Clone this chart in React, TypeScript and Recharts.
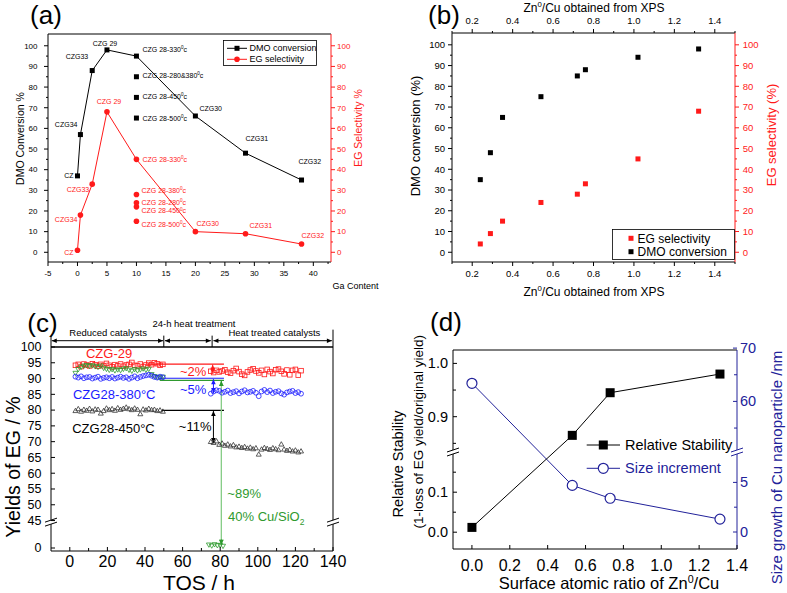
import React from "react";
import {
  ScatterChart,
  Scatter,
  XAxis,
  YAxis,
  ReferenceLine,
  ReferenceDot,
  Legend,
} from "recharts";

const FONT = "'Liberation Sans', Arial, Helvetica, sans-serif";
const RED = "#ff1a1a";
const BLUE = "#1a1aff";
const NAVY = "#22229a";
const GREEN = "#2f9a2f";
const LIGHTGREEN = "#86cc86";

// ---------- (a) conversion / selectivity vs Ga content
const gaContent = [0, 0.5, 2.5, 5, 10, 20, 28.5, 38];
const sampleNames = ["CZ", "CZG34", "CZG33", "CZG 29", "CZG 28-330⁰c", "CZG30", "CZG31", "CZG32"];
const dmoConversion = [37, 57, 88, 98, 95, 66, 48, 35];
const egSelectivity = [1, 18, 33, 68, 45, 10, 9, 4];
const czg28Ga = 10;
const czg28DmoNames = ["CZG 28-280&380⁰c", "CZG 28-450⁰c", "CZG 28-500⁰c"];
const czg28Dmo = [85, 75, 65];
const czg28EgNames = ["CZG 28-380⁰c", "CZG 28-280⁰c", "CZG 28-450⁰c", "CZG 28-500⁰c"];
const czg28Eg = [28, 24, 22, 15];
const gaTicks = [-5, -2.5, 0, 2.5, 5, 7.5, 10, 12.5, 15, 17.5, 20, 22.5, 25, 27.5, 30, 32.5, 35, 37.5, 40, 42.5];
const pctTicks = [0, 5, 10, 15, 20, 25, 30, 35, 40, 45, 50, 55, 60, 65, 70, 75, 80, 85, 90, 95, 100];

// ---------- (b) vs Zn0/Cu
const znCu = [0.24, 0.29, 0.35, 0.54, 0.72, 0.76, 1.02, 1.32];
const dmoVsZn = [35, 48, 65, 75, 85, 88, 94, 98];
const egVsZn = [4, 9, 15, 24, 28, 33, 45, 68];
const znTicks = [0.1, 0.2, 0.3, 0.4, 0.5, 0.6, 0.7, 0.8, 0.9, 1.0, 1.1, 1.2, 1.3, 1.4, 1.5];

// ---------- (c) yields vs TOS
const tosReduced = [3, 4.5, 6, 7.5, 9, 10.5, 12, 13.5, 15, 16.5, 18, 19.5, 21, 22.5, 24, 25.5, 27, 28.5, 30, 31.5, 33, 34.5, 36, 37.5, 39, 40.5, 42, 43.5, 45, 46.5, 48, 49.5];
const tosTreated = [75, 76.5, 78, 79.5, 81, 82.5, 84, 85.5, 87, 88.5, 90, 91.5, 93, 94.5, 96, 97.5, 99, 100.5, 102, 103.5, 105, 106.5, 108, 109.5, 111, 112.5, 114, 115.5, 117, 118.5, 120, 121.5, 123];
const tosCuSiO2Treated = [74, 75.5, 77, 78.5, 80, 81.5];
const czg29Reduced = [94.2, 94.5, 93.8, 94.6, 94.3, 94.0, 94.7, 94.4, 93.9, 94.5, 94.1, 94.8, 94.2, 93.7, 94.4, 94.0, 94.6, 93.9, 94.3, 94.5, 95.1, 94.2, 94.0, 94.6, 93.8, 94.3, 94.9, 94.4, 95.0, 94.7, 94.2, 94.5];
const czg29Treated = [92.3, 91.9, 92.6, 92.1, 92.4, 92.8, 92.0, 91.7, 92.5, 93.2, 92.2, 91.4, 91.0, 92.1, 92.7, 93.1, 92.4, 91.8, 92.6, 91.3, 92.9, 92.2, 91.6, 92.8, 93.0, 92.3, 91.5, 92.7, 91.2, 92.6, 92.9, 91.1, 92.5];
const czg380Reduced = [90.6, 90.3, 90.7, 90.1, 90.4, 90.5, 90.0, 90.3, 90.6, 89.9, 90.2, 90.4, 90.1, 90.5, 90.0, 90.3, 90.6, 90.2, 90.4, 89.9, 90.3, 90.7, 90.1, 90.5, 90.8, 91.0, 91.2, 90.9, 90.5, 90.3, 90.6, 90.4];
const czg380Treated = [85.2, 85.9, 86.3, 86.1, 85.5, 85.8, 86.2, 85.4, 85.7, 86.0, 85.3, 85.9, 86.3, 85.6, 85.8, 86.1, 85.5, 84.4, 85.9, 86.4, 85.7, 86.2, 85.4, 85.8, 86.0, 85.3, 84.9, 85.6, 85.9, 86.1, 85.4, 85.7, 85.2];
const czg450Reduced = [79.9, 80.5, 79.7, 80.3, 80.0, 80.6, 79.8, 80.4, 80.3, 79.1, 79.9, 80.7, 80.2, 80.5, 80.0, 80.8, 80.3, 80.6, 81.0, 80.5, 80.2, 80.7, 80.3, 78.9, 80.4, 80.1, 80.6, 80.2, 80.3, 79.9, 80.1, 79.7];
const czg450Treated = [70.1, 69.8, 70.3, 69.2, 69.6, 68.9, 69.3, 68.7, 69.1, 68.4, 68.6, 68.2, 68.5, 68.0, 68.3, 67.8, 68.1, 66.1, 67.7, 68.2, 67.9, 67.6, 68.1, 67.8, 67.5, 69.3, 67.7, 67.3, 67.6, 67.1, 67.4, 66.8, 67.1];
const cuSiO2Reduced = [91.6, 92.8, 93.5, 93.9, 94.1, 93.8, 94.0, 93.7, 93.5, 93.9, 93.2, 92.9, 92.6, 92.8, 92.4, 92.7, 92.5, 92.9, 93.1, 92.6, 92.3, 92.8, 92.4, 92.7, 93.0, 92.6, 92.9, 91.2, 90.6, 90.3, 90.1, 90.4];
const cuSiO2Treated = [0.9, 0.6, 1.0, 0.7, 0.8, 0.5];
const tosTicks = [0, 10, 20, 30, 40, 50, 60, 70, 80, 90, 100, 110, 120, 130, 140];
const yieldTicks = [0, 45, 50, 55, 60, 65, 70, 75, 80, 85, 90, 95, 100];

// ---------- (d) stability / size growth
const surfaceRatio = [0, 0.53, 0.73, 1.31];
const relStability = [0.012, 0.865, 0.945, 0.98];
const sizeIncrement = [63.4, 4.7, 3.4, 1.3];
const ratioTicks = [0, 0.2, 0.4, 0.6, 0.8, 1.0, 1.2, 1.4];
const stabTicks = [0, 0.05, 0.1, 0.15, 0.85, 0.9, 0.95, 1.0];
const sizeTicks = [0, 2.5, 5, 55, 60, 65, 70];

// broken axes
const breakC = 44.5;
const yc = (v: number) => (v >= 44 ? v : 36.3 + v);
const dLeft = (v: number) => (v <= 0.5 ? 16.8 + 400 * v : 132.3 + (v - 0.9) * 533);
const dRight = (v: number) => (v <= 30 ? 17 + 9.92 * v : 147.6 + (v - 60) * 5.33);

function rich(s: string, fs: number) {
  const parts = s.split(/([⁰₂])/).filter((p) => p !== "");
  let shift = 0;
  return parts.map((part, i) => {
    if (part === "⁰" || part === "₂") {
      const d = part === "⁰" ? -0.4 * fs : 0.3 * fs;
      const el = (
        <tspan key={i} dy={d - shift} fontSize={fs * 0.65}>
          {part === "⁰" ? "0" : "2"}
        </tspan>
      );
      shift = d;
      return el;
    }
    const el = (
      <tspan key={i} dy={shift ? -shift : undefined}>
        {part}
      </tspan>
    );
    shift = 0;
    return el;
  });
}

function title(text: string, x: number, y: number, fs: number, color = "#000", vertical = false) {
  return (
    <text
      x={x}
      y={y}
      dy="0.35em"
      textAnchor="middle"
      fontSize={fs}
      fill={color}
      fontFamily={FONT}
      transform={vertical ? `rotate(-90 ${x} ${y})` : undefined}
    >
      {rich(text, fs)}
    </text>
  );
}

type Side = "left" | "right" | "top" | "bottom";
function axisTick(o: {
  side: Side;
  inward?: boolean;
  len?: number;
  minorLen?: number;
  gap: number;
  fontSize: number;
  color?: string;
  label: (v: number) => string | null;
}) {
  const { side, inward = false, len = 4, minorLen = 2, gap, fontSize, color = "#000", label } = o;
  return (props: any) => {
    const { x, y, payload } = props;
    const txt = label(payload.value);
    const L = txt === null ? minorLen : len;
    const s = inward ? -1 : 1;
    let x2 = x;
    let y2 = y;
    let tx = x;
    let ty = y;
    let anchor = "middle";
    if (side === "bottom") {
      y2 = y + s * L;
      ty = y + gap;
    } else if (side === "top") {
      y2 = y - s * L;
      ty = y - gap;
    } else if (side === "left") {
      x2 = x - s * L;
      tx = x - gap;
      anchor = "end";
    } else {
      x2 = x + s * L;
      tx = x + gap;
      anchor = "start";
    }
    return (
      <g>
        <line x1={x} y1={y} x2={x2} y2={y2} stroke={color} strokeWidth={1} />
        {txt !== null && (
          <text x={tx} y={ty} dy="0.35em" textAnchor={anchor} fontSize={fontSize} fontFamily={FONT} fill={color}>
            {txt}
          </text>
        )}
      </g>
    );
  };
}

const square = (size: number, fill: string, stroke = fill, sw = 0) => (p: any) => (
  <rect x={p.cx - size / 2} y={p.cy - size / 2} width={size} height={size} fill={fill} stroke={stroke} strokeWidth={sw} />
);
const circle = (r: number, fill: string, stroke = fill, sw = 0) => (p: any) => (
  <circle cx={p.cx} cy={p.cy} r={r} fill={fill} stroke={stroke} strokeWidth={sw} />
);
const triangle = (s: number, color: string, down = false) => (p: any) => {
  const h = s * 0.87;
  const pts = down
    ? `${p.cx - s / 2},${p.cy - h / 2} ${p.cx + s / 2},${p.cy - h / 2} ${p.cx},${p.cy + h / 2}`
    : `${p.cx - s / 2},${p.cy + h / 2} ${p.cx + s / 2},${p.cy + h / 2} ${p.cx},${p.cy - h / 2}`;
  return <polygon points={pts} fill="none" stroke={color} strokeWidth={0.8} />;
};

type Place = [number, number, string];
const placeDmo: Record<string, Place> = {
  CZ: [-4, 0, "end"],
  CZG34: [-3, -10, "end"],
  CZG33: [-4, -14, "end"],
  "CZG 29": [-2, -6, "middle"],
  "CZG 28-330⁰c": [6, -7, "start"],
  "CZG 28-280&380⁰c": [6, -1, "start"],
  "CZG 28-450⁰c": [6, -1, "start"],
  "CZG 28-500⁰c": [6, 0, "start"],
  CZG30: [4, -7, "start"],
  CZG31: [0, -15, "start"],
  CZG32: [-3, -18, "start"],
};
const placeEg: Record<string, Place> = {
  CZ: [-4, 2, "end"],
  CZG34: [-3, 4, "end"],
  CZG33: [-3, 5, "end"],
  "CZG 29": [2, -10, "middle"],
  "CZG 28-330⁰c": [6, 0, "start"],
  "CZG 28-380⁰c": [5, -4, "start"],
  "CZG 28-280⁰c": [5, 0, "start"],
  "CZG 28-450⁰c": [5, 4, "start"],
  "CZG 28-500⁰c": [5, 3, "start"],
  CZG30: [1, -8, "start"],
  CZG31: [4, -8, "start"],
  CZG32: [0, -8, "start"],
};

const labelled = (base: (p: any) => React.ReactElement, place: Record<string, Place>, color: string) => (p: any) => {
  const name = p.payload?.name ?? "";
  const pl = place[name] ?? [6, 0, "start"];
  return (
    <g>
      {base(p)}
      <text x={p.cx + pl[0]} y={p.cy + pl[1]} dy="0.35em" textAnchor={pl[2]} fontSize={7} fill={color} fontFamily={FONT}>
        {rich(name, 7)}
      </text>
    </g>
  );
};

function arrowShape(p: any, color: string, heads: [boolean, boolean], w: number) {
  const { x1, y1, x2, y2 } = p;
  const a = Math.atan2(y2 - y1, x2 - x1);
  const head = (x: number, y: number, ang: number) => {
    const L = 5;
    const H = 2.3;
    const bx = x - L * Math.cos(ang);
    const by = y - L * Math.sin(ang);
    return (
      <polygon
        points={`${x},${y} ${bx - H * Math.sin(ang)},${by + H * Math.cos(ang)} ${bx + H * Math.sin(ang)},${by - H * Math.cos(ang)}`}
        fill={color}
      />
    );
  };
  return (
    <g>
      <line x1={x1} y1={y1} x2={x2} y2={y2} stroke={color} strokeWidth={w} />
      {heads[0] && head(x1, y1, a + Math.PI)}
      {heads[1] && head(x2, y2, a)}
    </g>
  );
}

const arrow = (x1: number, y1: number, x2: number, y2: number, color: string, heads: [boolean, boolean], w = 1, visible = false) => (
  <ReferenceLine
    segment={[{ x: x1, y: y1 }, { x: x2, y: y2 }]}
    ifOverflow={visible ? "visible" : "discard"}
    stroke={color}
    shape={(p: any) => arrowShape(p, color, heads, w)}
  />
);

const seg = (x1: number, y1: number, x2: number, y2: number, color: string, w = 1, visible = false) => (
  <ReferenceLine segment={[{ x: x1, y: y1 }, { x: x2, y: y2 }]} ifOverflow={visible ? "visible" : "discard"} stroke={color} strokeWidth={w} />
);

const note = (x: number, y: number, text: string, color: string, fs: number, anchor = "start", visible = false) => (
  <ReferenceDot
    x={x}
    y={y}
    r={0}
    ifOverflow={visible ? "visible" : "discard"}
    shape={(p: any) => (
      <text x={p.cx} y={p.cy} dy="0.35em" textAnchor={anchor} fontSize={fs} fill={color} fontFamily={FONT}>
        {rich(text, fs)}
      </text>
    )}
  />
);

const breakMark = (x: number, y: number, color: string, yAxisId: any = 0) => (
  <ReferenceDot
    x={x}
    y={y}
    r={0}
    yAxisId={yAxisId}
    ifOverflow="visible"
    shape={(p: any) => (
      <g>
        <polygon points={`${p.cx - 6},${p.cy} ${p.cx + 6},${p.cy - 4} ${p.cx + 6},${p.cy} ${p.cx - 6},${p.cy + 4}`} fill="#fff" />
        <line x1={p.cx - 6} y1={p.cy} x2={p.cx + 6} y2={p.cy - 4} stroke={color} strokeWidth={1} />
        <line x1={p.cx - 6} y1={p.cy + 4} x2={p.cx + 6} y2={p.cy} stroke={color} strokeWidth={1} />
      </g>
    )}
  />
);

type LegendRow = { name: string; color: string; sym: "square" | "circle" | "openCircle"; size: number };
function legendBox(rows: LegendRow[], o: { w: number; h: number; border: boolean; fs: number; rowY: number[]; symX: number; textX: number; line?: [number, number] }) {
  return () => (
    <svg width={o.w} height={o.h} style={{ display: "block" }}>
      {o.border && <rect x={0.5} y={0.5} width={o.w - 1} height={o.h - 1} fill="#fff" stroke="#000" strokeWidth={0.8} />}
      {rows.map((r, i) => {
        const y = o.rowY[i];
        return (
          <g key={r.name}>
            {o.line && <line x1={o.line[0]} y1={y} x2={o.line[1]} y2={y} stroke={r.color} strokeWidth={1} />}
            {r.sym === "square" && <rect x={o.symX - r.size / 2} y={y - r.size / 2} width={r.size} height={r.size} fill={r.color} />}
            {r.sym === "circle" && <circle cx={o.symX} cy={y} r={r.size / 2} fill={r.color} />}
            {r.sym === "openCircle" && <circle cx={o.symX} cy={y} r={r.size / 2} fill="#fff" stroke={r.color} strokeWidth={1.2} />}
            <text x={o.textX} y={y} dy="0.35em" fontSize={o.fs} fontFamily={FONT} fill={o.line && r.sym === "openCircle" ? r.color : "#000"}>
              {r.name}
            </text>
          </g>
        );
      })}
    </svg>
  );
}

const pctLabel = (v: number) => (v % 10 === 0 ? String(v) : null);

function PanelA() {
  const dmo = gaContent.map((x, i) => ({ x, y: dmoConversion[i], name: sampleNames[i] }));
  const eg = gaContent.map((x, i) => ({ x, y: egSelectivity[i], name: sampleNames[i] }));
  const dmo28 = czg28Dmo.map((y, i) => ({ x: czg28Ga, y, name: czg28DmoNames[i] }));
  const eg28 = czg28Eg.map((y, i) => ({ x: czg28Ga, y, name: czg28EgNames[i] }));
  const sq = square(5, "#000");
  const dot = circle(2.8, RED);
  return (
    <div style={{ position: "absolute", left: 0, top: 0 }}>
      <ScatterChart width={395} height={296} margin={{ top: 33, right: 0, bottom: 0, left: 0 }}>
        <XAxis
          type="number"
          dataKey="x"
          domain={[-5, 43]}
          allowDataOverflow
          ticks={gaTicks}
          interval={0}
          height={34}
          tickSize={0}
          tickMargin={0}
          tickLine={false}
          axisLine={{ stroke: "#000" }}
          tick={axisTick({ side: "bottom", gap: 11, fontSize: 8, label: (v) => (v % 5 === 0 ? String(v) : null) })}
          label={() => title("Ga Content", 355.5, 285.7, 9)}
        />
        <XAxis
          xAxisId="top"
          orientation="top"
          type="number"
          domain={[-5, 43]}
          allowDataOverflow
          height={1}
          tick={false}
          tickLine={false}
          axisLine={{ stroke: "#000" }}
          label={() => title("(a)", 46, 15, 26)}
        />
        <YAxis
          type="number"
          dataKey="y"
          domain={[-4.7, 105.7]}
          allowDataOverflow
          ticks={pctTicks}
          interval={0}
          width={48}
          tickSize={0}
          tickMargin={0}
          tickLine={false}
          axisLine={{ stroke: "#000" }}
          tick={axisTick({ side: "left", gap: 10.5, fontSize: 8, label: pctLabel })}
          label={() => title("DMO Conversion %", 20, 138.5, 10.5, "#000", true)}
        />
        <YAxis
          yAxisId="r"
          orientation="right"
          type="number"
          dataKey="y"
          domain={[-4.7, 105.7]}
          allowDataOverflow
          ticks={pctTicks}
          interval={0}
          width={64}
          tickSize={0}
          tickMargin={0}
          tickLine={false}
          axisLine={{ stroke: RED }}
          tick={axisTick({ side: "right", gap: 6, fontSize: 8, color: RED, label: pctLabel })}
          label={() => title("EG Selectivity %", 358, 128, 10.5, RED, true)}
        />
        <Legend
          layout="horizontal"
          verticalAlign="middle"
          align="center"
          wrapperStyle={{ left: 222.7, top: 40, width: 94, height: 26, margin: 0, padding: 0 }}
          content={legendBox(
            [
              { name: "DMO conversion", color: "#000", sym: "square", size: 5 },
              { name: "EG selectivity", color: RED, sym: "circle", size: 5.6 },
            ],
            { w: 94, h: 26, border: true, fs: 9, rowY: [8.3, 19.3], symX: 14, textX: 26.6, line: [4, 24] }
          )}
        />
        <Scatter name="DMO conversion" data={dmo} fill="#000" line={{ stroke: "#000", strokeWidth: 1 }} lineType="joint" shape={labelled(sq, placeDmo, "#000")} isAnimationActive={false} />
        <Scatter name="EG selectivity" yAxisId="r" data={eg} fill={RED} line={{ stroke: RED, strokeWidth: 1 }} lineType="joint" shape={labelled(dot, placeEg, RED)} isAnimationActive={false} />
        <Scatter name="CZG 28 DMO" data={dmo28} fill="#000" legendType="none" shape={labelled(sq, placeDmo, "#000")} isAnimationActive={false} />
        <Scatter name="CZG 28 EG" yAxisId="r" data={eg28} fill={RED} legendType="none" shape={labelled(dot, placeEg, RED)} isAnimationActive={false} />
      </ScatterChart>
    </div>
  );
}

const znLabel = (v: number) => (Math.round(v * 10) % 2 === 0 ? v.toFixed(1) : null);

function PanelB() {
  const dmo = znCu.map((x, i) => ({ x, y: dmoVsZn[i] }));
  const eg = znCu.map((x, i) => ({ x, y: egVsZn[i] }));
  return (
    <div style={{ position: "absolute", left: 395, top: 0 }}>
      <ScatterChart width={392} height={300} margin={{ top: 0, right: 0, bottom: 0, left: 0 }}>
        <XAxis
          type="number"
          dataKey="x"
          domain={[0.1, 1.5]}
          allowDataOverflow
          ticks={znTicks}
          interval={0}
          height={38}
          tickSize={0}
          tickMargin={0}
          tickLine={false}
          axisLine={{ stroke: "#000" }}
          tick={axisTick({ side: "bottom", gap: 11.5, fontSize: 9.5, label: znLabel })}
          label={() => title("Zn⁰/Cu obtained from XPS", 199, 292, 12)}
        />
        <XAxis
          xAxisId="top"
          orientation="top"
          type="number"
          dataKey="x"
          domain={[0.1, 1.5]}
          allowDataOverflow
          ticks={znTicks}
          interval={0}
          height={33}
          tickSize={0}
          tickMargin={0}
          tickLine={false}
          axisLine={{ stroke: "#000" }}
          tick={axisTick({ side: "top", gap: 12, fontSize: 9.5, label: znLabel })}
          label={() => (
            <g>
              {title("(b)", 49, 15, 26)}
              {title("Zn⁰/Cu obtained from XPS", 199, 8, 12)}
            </g>
          )}
        />
        <YAxis
          type="number"
          dataKey="y"
          domain={[-4.7, 105.7]}
          allowDataOverflow
          ticks={pctTicks}
          interval={0}
          width={57}
          tickSize={0}
          tickMargin={0}
          tickLine={false}
          axisLine={{ stroke: "#000" }}
          tick={axisTick({ side: "left", gap: 7, fontSize: 9.5, label: pctLabel })}
          label={() => title("DMO conversion (%)", 20, 136, 13, "#000", true)}
        />
        <YAxis
          yAxisId="r"
          orientation="right"
          type="number"
          dataKey="y"
          domain={[-4.7, 105.7]}
          allowDataOverflow
          ticks={pctTicks}
          interval={0}
          width={52}
          tickSize={0}
          tickMargin={0}
          tickLine={false}
          axisLine={{ stroke: RED }}
          tick={axisTick({ side: "right", gap: 7.7, fontSize: 9.5, color: RED, label: pctLabel })}
          label={() => title("EG selectivity (%)", 376.7, 135, 13, RED, true)}
        />
        <Legend
          layout="horizontal"
          verticalAlign="middle"
          align="center"
          wrapperStyle={{ left: 216.7, top: 229, width: 123, height: 31, margin: 0, padding: 0 }}
          content={legendBox(
            [
              { name: "EG selectivity", color: RED, sym: "square", size: 5 },
              { name: "DMO conversion", color: "#000", sym: "square", size: 5 },
            ],
            { w: 123, h: 31, border: true, fs: 12, rowY: [9.3, 22.7], symX: 19, textX: 25.6 }
          )}
        />
        <Scatter name="EG selectivity" xAxisId="top" yAxisId="r" data={eg} fill={RED} shape={square(5, RED)} isAnimationActive={false} />
        <Scatter name="DMO conversion" data={dmo} fill="#000" shape={square(5, "#000")} isAnimationActive={false} />
      </ScatterChart>
    </div>
  );
}

function PanelC() {
  const pts = (xs: number[], ys: number[]) => xs.map((x, i) => ({ x, y: yc(ys[i]) }));
  const czg29 = [...pts(tosReduced, czg29Reduced), ...pts(tosTreated, czg29Treated)];
  const czg380 = [...pts(tosReduced, czg380Reduced), ...pts(tosTreated, czg380Treated)];
  const czg450 = [...pts(tosReduced, czg450Reduced), ...pts(tosTreated, czg450Treated)];
  const cuSiO2 = [...pts(tosReduced, cuSiO2Reduced), ...pts(tosCuSiO2Treated, cuSiO2Treated)];
  const yieldLabel = (t: number) => {
    const i = yieldTicks.findIndex((v) => Math.abs(yc(v) - t) < 1e-6);
    return i >= 0 ? String(yieldTicks[i]) : null;
  };
  return (
    <div style={{ position: "absolute", left: 0, top: 296 }}>
      <ScatterChart width={395} height={297} margin={{ top: 50, right: 0, bottom: 0, left: 0 }}>
        <XAxis
          type="number"
          dataKey="x"
          domain={[-10, 140]}
          allowDataOverflow
          ticks={tosTicks}
          interval={0}
          height={42}
          tickSize={0}
          tickMargin={0}
          tickLine={false}
          axisLine={{ stroke: "#000" }}
          tick={axisTick({ side: "bottom", inward: true, len: 4, minorLen: 3, gap: 10.5, fontSize: 16, label: (v) => (v % 20 === 0 ? String(v) : null) })}
          label={() => title("TOS / h", 199, 286.5, 21)}
        />
        <XAxis
          xAxisId="top"
          orientation="top"
          type="number"
          domain={[-10, 140]}
          allowDataOverflow
          height={1}
          tick={false}
          tickLine={false}
          axisLine={{ stroke: "#000", strokeWidth: 1.3 }}
          label={() => title("(c)", 42.5, 27, 26)}
        />
        <YAxis
          type="number"
          dataKey="y"
          domain={[35.35, 100]}
          allowDataOverflow
          ticks={yieldTicks.map(yc)}
          interval={0}
          width={51}
          tickSize={0}
          tickMargin={0}
          tickLine={false}
          axisLine={{ stroke: "#000" }}
          tick={axisTick({ side: "left", inward: true, len: 4, gap: 9.5, fontSize: 12.5, label: yieldLabel })}
          label={() => title("Yields of EG / %", 13.3, 171, 19.5, "#000", true)}
        />
        <YAxis yAxisId="r" orientation="right" type="number" domain={[35.35, 100]} allowDataOverflow width={62} tick={false} tickLine={false} axisLine={{ stroke: "#000" }} />

        <Scatter name="CZG-29" data={czg29} fill="none" shape={square(4.6, "none", RED, 0.8)} isAnimationActive={false} />
        <Scatter name="40% Cu/SiO2" data={cuSiO2} fill="none" shape={triangle(5, GREEN, true)} isAnimationActive={false} />
        <Scatter name="CZG28-380°C" data={czg380} fill="none" shape={circle(2.4, "none", BLUE, 0.8)} isAnimationActive={false} />
        <Scatter name="CZG28-450°C" data={czg450} fill="none" shape={triangle(5, "#333")} isAnimationActive={false} />

        {seg(41, 94.6, 82, 94.6, RED, 1.2)}
        {seg(48, 90.1, 82, 90.1, BLUE, 1.2)}
        {seg(48, 89.4, 82, 89.4, GREEN, 1.2)}
        {seg(49, 79.9, 82, 79.9, "#000", 1.2)}
        {arrow(76, 94.4, 76, 91.8, RED, [true, true])}
        {arrow(76.4, 89.8, 76.4, 85.4, BLUE, [true, true])}
        {arrow(76.4, 79.7, 76.4, 69.6, "#000", [true, true])}
        {arrow(80.6, 89.2, 80.6, 37.3, LIGHTGREEN, [true, true], 1.3)}
        {arrow(80.6, 89.2, 80.6, 87.8, GREEN, [true, false])}
        {arrow(80.6, 39.0, 80.6, 37.3, GREEN, [false, true])}

        {arrow(-9.6, 102, 49.6, 102, "#000", [true, true], 1, true)}
        {arrow(50.6, 102, 75.0, 102, "#000", [true, true], 1, true)}
        {arrow(76.4, 102, 139.4, 102, "#000", [true, true], 1, true)}
        {seg(-10, 100, -10, 103.6, "#000", 1, true)}
        {seg(50, 100, 50, 103.6, "#000", 1, true)}
        {seg(75.7, 100, 75.7, 103.6, "#000", 1, true)}
        {seg(140, 100, 140, 105.5, "#000", 1, true)}
        {note(20.4, 104.5, "Reduced catalysts", "#000", 9.5, "middle", true)}
        {note(66, 107.3, "24-h heat treatment", "#000", 9.5, "middle", true)}
        {note(108.8, 104.5, "Heat treated catalysts", "#000", 9.5, "middle", true)}

        {note(20.9, 98.0, "CZG-29", RED, 13, "middle")}
        {note(1.7, 85.0, "CZG28-380°C", BLUE, 13)}
        {note(1.3, 74.2, "CZG28-450°C", "#000", 13)}
        {note(58.6, 92.2, "~2%", RED, 13)}
        {note(58.6, 86.4, "~5%", BLUE, 13)}
        {note(58, 74.7, "~11%", "#000", 13)}
        {note(83.8, 53.6, "~89%", GREEN, 13)}
        {note(84.2, 46.4, "40% Cu/SiO₂", GREEN, 13)}

        {breakMark(-10, breakC, "#000")}
        {breakMark(140, breakC, "#000")}
      </ScatterChart>
    </div>
  );
}

function PanelD() {
  const rs = surfaceRatio.map((x, i) => ({ x, y: dLeft(relStability[i]) }));
  const si = surfaceRatio.map((x, i) => ({ x, y: dRight(sizeIncrement[i]) }));
  const stabLabel = (t: number) => {
    const v = stabTicks.find((s) => Math.abs(dLeft(s) - t) < 1e-6);
    return v !== undefined && Math.round(v * 100) % 10 === 0 ? v.toFixed(1) : null;
  };
  const sizeLabel = (t: number) => {
    const v = sizeTicks.find((s) => Math.abs(dRight(s) - t) < 1e-6);
    return v !== undefined && [0, 5, 60, 70].includes(v) ? String(v) : null;
  };
  return (
    <div style={{ position: "absolute", left: 385, top: 296 }}>
      <ScatterChart width={402} height={297} margin={{ top: 53, right: 0, bottom: 0, left: 0 }}>
        <XAxis
          type="number"
          dataKey="x"
          domain={[-0.1, 1.4]}
          allowDataOverflow
          ticks={ratioTicks}
          interval={0}
          height={44}
          tickSize={0}
          tickMargin={0}
          tickLine={false}
          axisLine={{ stroke: "#000" }}
          tick={axisTick({ side: "bottom", inward: true, len: 4, gap: 16.5, fontSize: 16, label: (v) => v.toFixed(1) })}
          label={() => title("Surface atomic ratio of Zn⁰/Cu", 224, 287.5, 16.5)}
        />
        <XAxis
          xAxisId="top"
          orientation="top"
          type="number"
          domain={[-0.1, 1.4]}
          allowDataOverflow
          height={1}
          tick={false}
          tickLine={false}
          axisLine={{ stroke: "#000" }}
          label={() => title("(d)", 61, 25.7, 26)}
        />
        <YAxis
          type="number"
          dataKey="y"
          domain={[0, 199]}
          allowDataOverflow
          ticks={stabTicks.map(dLeft)}
          interval={0}
          width={68}
          tickSize={0}
          tickMargin={0}
          tickLine={false}
          axisLine={{ stroke: "#000" }}
          tick={axisTick({ side: "left", inward: true, len: 4, minorLen: 3, gap: 5, fontSize: 14.5, label: stabLabel })}
          label={() => (
            <g>
              {title("Relative Stability", 13, 168, 14.5, "#000", true)}
              {title("(1-loss of EG yield/original yield)", 33, 135.7, 13.5, "#000", true)}
            </g>
          )}
        />
        <YAxis
          yAxisId="r"
          orientation="right"
          type="number"
          dataKey="y"
          domain={[0, 199]}
          allowDataOverflow
          ticks={sizeTicks.map(dRight)}
          interval={0}
          width={50}
          tickSize={0}
          tickMargin={0}
          tickLine={false}
          axisLine={{ stroke: NAVY }}
          tick={axisTick({ side: "right", inward: true, len: 4, minorLen: 3, gap: 3, fontSize: 14.5, color: NAVY, label: sizeLabel })}
          label={() => title("Size growth of Cu nanoparticle /nm", 391.7, 171.5, 15, NAVY, true)}
        />
        <Legend
          layout="horizontal"
          verticalAlign="middle"
          align="center"
          wrapperStyle={{ left: 195, top: 136, width: 160, height: 48, margin: 0, padding: 0 }}
          content={legendBox(
            [
              { name: "Relative Stability", color: "#000", sym: "square", size: 9 },
              { name: "Size increment", color: NAVY, sym: "openCircle", size: 10 },
            ],
            { w: 160, h: 48, border: false, fs: 14.5, rowY: [13, 36.3], symX: 23.3, textX: 45, line: [6.7, 40] }
          )}
        />
        <Scatter name="Size increment" yAxisId="r" data={si} fill="#fff" line={{ stroke: NAVY, strokeWidth: 1 }} lineType="joint" shape={circle(5, "#fff", NAVY, 1.2)} isAnimationActive={false} />
        <Scatter name="Relative Stability" data={rs} fill="#000" line={{ stroke: "#000", strokeWidth: 1 }} lineType="joint" shape={square(9, "#000")} isAnimationActive={false} />
        {breakMark(-0.1, 97, "#000")}
        {breakMark(1.4, 97, NAVY, "r")}
      </ScatterChart>
    </div>
  );
}

export default function App() {
  return (
    <div style={{ position: "absolute", left: 0, top: 0, width: 787, height: 593, background: "#fff", fontFamily: FONT }}>
      <PanelA />
      <PanelB />
      <PanelC />
      <PanelD />
    </div>
  );
}
